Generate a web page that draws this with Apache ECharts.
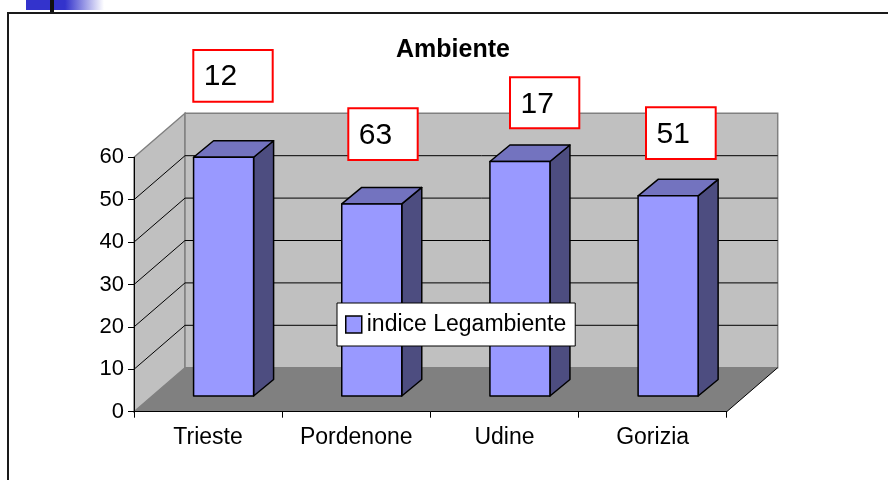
<!DOCTYPE html>
<html><head><meta charset="utf-8">
<script src="https://cdn.jsdelivr.net/npm/echarts@6/dist/echarts.min.js"></script>
<style>html,body{margin:0;padding:0;background:#fff}#c{width:888px;height:480px}</style>
</head><body><div id="c"></div>
<script>
// ---- data ----
const categories = ['Trieste', 'Pordenone', 'Udine', 'Gorizia'];
const values = [56.3, 45.3, 55.3, 47.2];
const rankLabels = ['12', '63', '17', '51'];
const gridValues = [0, 10, 20, 30, 40, 50, 60];
const seriesName = 'indice Legambiente';
const titleText = 'Ambiente';

// ---- layout / style ----
const DX = 51, DY = -44;                 // depth of the 3D box
const BAR_SHIFT_X = 15.5, BAR_SHIFT_Y = -15.7; // bar front-face depth
const BAR_DX = 20, BAR_DY = -16.5;       // bar depth
const BAR_RATIO = 0.405;
const boxLayout = [
  {x: 193.3, y: 50, w: 79.4, h: 51.7},
  {x: 348.3, y: 108.3, w: 69.4, h: 51.7},
  {x: 510, y: 77.3, w: 69.3, h: 51},
  {x: 646, y: 107.3, w: 69.7, h: 51.7}
];
const FONT = '"Liberation Sans", Arial, sans-serif';

const chart = echarts.init(document.getElementById('c'), null, {renderer: 'canvas'});

function renderWalls(params, api) {
  const cs = params.coordSys;
  const x0 = cs.x, x1 = cs.x + cs.width;
  const yb = api.coord([0, api.value(1)])[1];
  const yt = api.coord([0, api.value(2)])[1];
  return {
    type: 'group',
    children: [
      {type: 'polygon', shape: {points: [[x0, yb], [x0 + DX, yb + DY], [x0 + DX, yt + DY], [x0, yt]]},
        style: {fill: '#C0C0C0', stroke: '#808080', lineWidth: 1.5}},
      {type: 'rect', shape: {x: x0 + DX, y: yt + DY, width: x1 - x0, height: yb - yt},
        style: {fill: '#C0C0C0', stroke: '#808080', lineWidth: 1.5}},
      {type: 'polygon', shape: {points: [[x0, yb], [x1, yb], [x1 + DX, yb + DY], [x0 + DX, yb + DY]]},
        style: {fill: '#808080', stroke: null}},
      {type: 'line', shape: {x1: x1, y1: yb, x2: x1 + DX, y2: yb + DY},
        style: {stroke: '#000', lineWidth: 1}}
    ]
  };
}

function renderGridLine(params, api) {
  const cs = params.coordSys;
  const x0 = cs.x, x1 = cs.x + cs.width;
  const y = api.coord([0, api.value(1)])[1];
  return {
    type: 'group',
    children: [
      {type: 'line', shape: {x1: x0, y1: y, x2: x0 + DX, y2: y + DY}, style: {stroke: '#000', lineWidth: 1}},
      {type: 'line', shape: {x1: x0 + DX, y1: y + DY, x2: x1 + DX, y2: y + DY}, style: {stroke: '#000', lineWidth: 1}}
    ]
  };
}

function renderBar(params, api) {
  const idx = api.value(0), v = api.value(1);
  const base = api.coord([idx, 0]);
  const top = api.coord([idx, v]);
  const band = api.size([1, 0])[0];
  const w = band * BAR_RATIO;
  const cx = base[0] + BAR_SHIFT_X;
  const x0 = cx - w / 2, x1 = cx + w / 2;
  const yb = base[1] + BAR_SHIFT_Y, yt = top[1] + BAR_SHIFT_Y;
  const st = {stroke: '#000', lineWidth: 1.5, lineJoin: 'round'};
  return {
    type: 'group',
    children: [
      {type: 'polygon', shape: {points: [[x1, yt], [x1 + BAR_DX, yt + BAR_DY], [x1 + BAR_DX, yb + BAR_DY], [x1, yb]]},
        style: Object.assign({fill: '#4D4D80'}, st)},
      {type: 'polygon', shape: {points: [[x0, yt], [x1, yt], [x1 + BAR_DX, yt + BAR_DY], [x0 + BAR_DX, yt + BAR_DY]]},
        style: Object.assign({fill: '#7373BF'}, st)},
      {type: 'rect', shape: {x: x0, y: yt, width: w, height: yb - yt},
        style: Object.assign({fill: '#9999FF'}, st)}
    ]
  };
}

const graphics = [
  {type: 'rect', left: 26, top: 0, shape: {width: 78, height: 10}, z: 100,
    style: {fill: new echarts.graphic.LinearGradient(0, 0, 1, 0, [
      {offset: 0, color: '#3333CC'}, {offset: 0.5, color: '#3333CC'}, {offset: 1, color: '#ffffff'}])}},
  {type: 'rect', left: 50, top: 0, shape: {width: 4, height: 12}, z: 101, style: {fill: '#111'}},
  {type: 'line', shape: {x1: 7, y1: 13, x2: 888, y2: 13}, z: 100, style: {stroke: '#1a1a1a', lineWidth: 2}},
  {type: 'line', shape: {x1: 8, y1: 12, x2: 8, y2: 480}, z: 100, style: {stroke: '#1a1a1a', lineWidth: 2}}
];
rankLabels.forEach((t, i) => {
  const b = boxLayout[i];
  graphics.push({type: 'rect', z: 100, shape: {x: b.x, y: b.y, width: b.w, height: b.h},
    style: {fill: '#fff', stroke: '#FF0000', lineWidth: 2}});
  graphics.push({type: 'text', z: 101, x: b.x + 10.5, y: b.y + 27,
    style: {text: t, fill: '#000', font: '30px ' + FONT, textAlign: 'left', textVerticalAlign: 'middle'}});
});

chart.setOption({
  animation: false,
  backgroundColor: '#fff',
  title: {
    text: titleText, left: 396, top: 38, padding: 0,
    textStyle: {fontFamily: FONT, fontSize: 25, fontWeight: 'bold', color: '#000'}
  },
  legend: {
    data: [{name: seriesName, icon: 'rect',
      itemStyle: {color: '#9999FF', borderColor: '#000', borderWidth: 1.5}}],
    left: 337, top: 303, padding: [10, 9, 10, 8],
    backgroundColor: '#fff', borderColor: '#000', borderWidth: 1, borderRadius: 0,
    itemWidth: 16, itemHeight: 17, selectedMode: false,
    textStyle: {fontFamily: FONT, fontSize: 23, color: '#000'}
  },
  grid: {left: 134, right: 161.3, top: 157.3, bottom: 68.3, containLabel: false},
  xAxis: {
    type: 'category', data: categories, boundaryGap: true, z: 5,
    axisLine: {lineStyle: {color: '#000', width: 1}},
    axisTick: {show: true, inside: false, length: 6, alignWithLabel: false, lineStyle: {color: '#000'}},
    axisLabel: {fontFamily: FONT, fontSize: 23, color: '#000', margin: 14},
    splitLine: {show: false}
  },
  yAxis: {
    type: 'value', min: 0, max: 60, interval: 10, z: 5,
    axisLine: {show: true, lineStyle: {color: '#000', width: 1}},
    axisTick: {show: true, inside: false, length: 6, lineStyle: {color: '#000'}},
    axisLabel: {fontFamily: FONT, fontSize: 22, color: '#000', margin: 10},
    splitLine: {show: false}
  },
  series: [
    {type: 'custom', name: 'walls', z: 1, silent: true, renderItem: renderWalls,
      data: [[0, gridValues[0], gridValues[gridValues.length - 1]]]},
    {type: 'custom', name: 'grid', z: 1.5, silent: true, renderItem: renderGridLine,
      data: gridValues.slice(1, -1).map(v => [0, v])},
    {type: 'custom', name: seriesName, z: 2, renderItem: renderBar,
      itemStyle: {color: '#9999FF', borderColor: '#000', borderWidth: 1.5},
      data: values.map((v, i) => [i, v])}
  ],
  graphic: graphics
});
</script></body></html>
